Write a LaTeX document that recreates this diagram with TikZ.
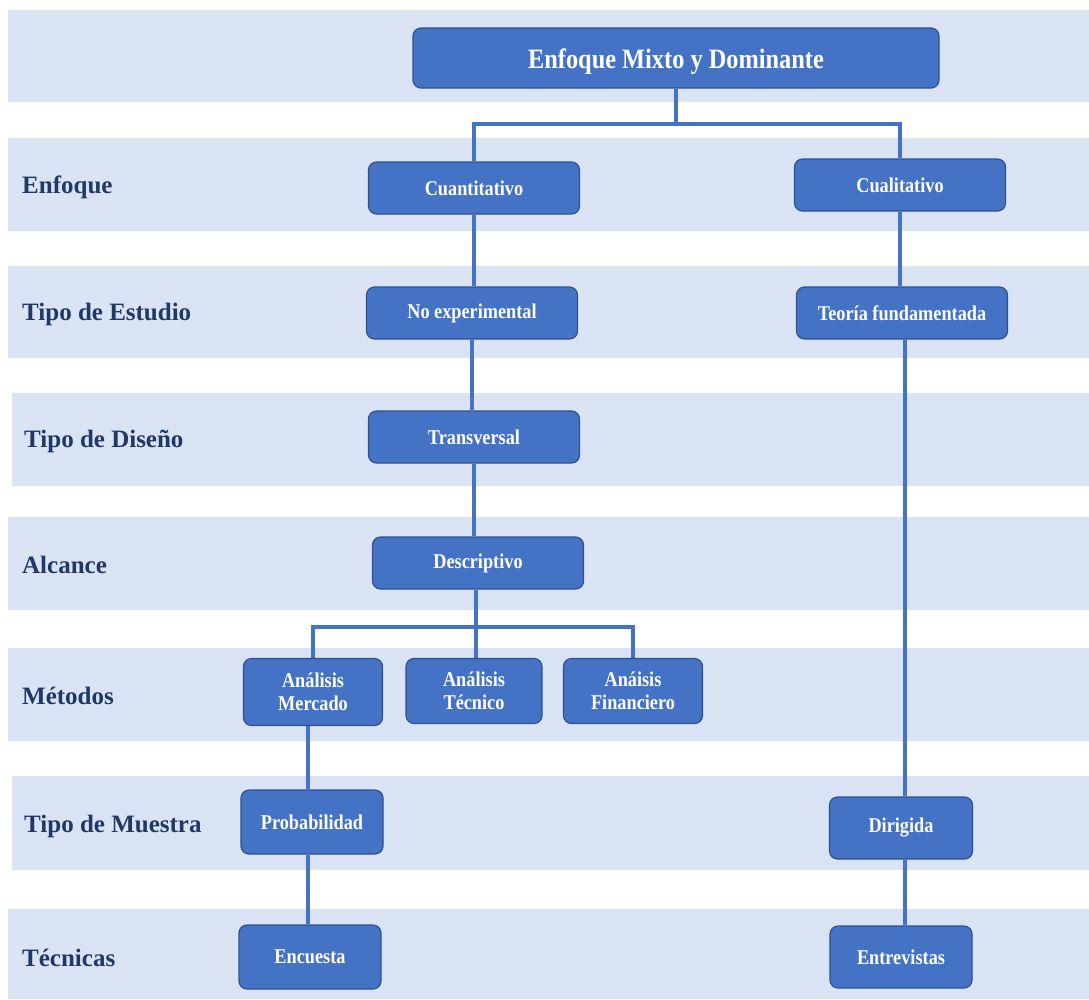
\documentclass[tikz,border=0pt]{standalone}
\usepackage{fontspec}
\setmainfont{Liberation Serif}
\newfontfamily\boxfont[FakeStretch=0.87]{Liberation Serif}
\definecolor{band}{HTML}{DAE3F3}
\definecolor{boxfill}{HTML}{4472C4}
\definecolor{boxline}{HTML}{2F528F}
\definecolor{labeltext}{HTML}{1F3864}
\pgfdeclarelayer{bands}
\pgfdeclarelayer{links}
\pgfsetlayers{bands,links,main}
\tikzset{
  row/.style={fill=band, draw=none},
  stagebox/.style={rectangle, rounded corners=8pt, fill=boxfill, draw=boxline,
    line width=1.2pt, text=white, inner sep=0pt,
    font=\boxfont\bfseries\fontsize{21}{23}\selectfont},
  stage/.style={stagebox, align=center},
  wide/.style={minimum width=211pt, minimum height=52pt},
  rowlabel/.style={anchor=west, text=labeltext, inner sep=0pt,
    font=\bfseries\fontsize{25}{28}\selectfont},
  link/.style={draw=boxfill, line width=4pt}
}
\begin{document}
\begin{tikzpicture}[x=1pt,y=-1pt]
  \useasboundingbox (0,0) rectangle (1089,999);
  % horizontal bands
  \begin{pgfonlayer}{bands}
    \fill[row] (8,10)   rectangle (1089,102);
    \fill[row] (8,138)  rectangle (1089,231);
    \fill[row] (8,266)  rectangle (1089,358);
    \fill[row] (12,393) rectangle (1089,486);
    \fill[row] (8,517)  rectangle (1089,610);
    \fill[row] (8,648)  rectangle (1089,741);
    \fill[row] (12,776) rectangle (1089,870);
    \fill[row] (8,909)  rectangle (1089,999);
  \end{pgfonlayer}

  % row labels
  \node[rowlabel] (lEnf) at (22,187) {Enfoque};
  \node[rowlabel] (lEst) at (22,314) {Tipo de Estudio};
  \node[rowlabel] (lDis) at (24,441) {Tipo de Diseño};
  \node[rowlabel] (lAlc) at (22,565) {Alcance};
  \node[rowlabel] (lMet) at (22,696) {Métodos};
  \node[rowlabel] (lMue) at (24,826) {Tipo de Muestra};
  \node[rowlabel] (lTec) at (22,958) {Técnicas};

  % boxes
  \node[stagebox, minimum width=526pt, minimum height=60pt,
        text height=22pt, text depth=2pt,
        font=\boxfont\bfseries\fontsize{28}{30}\selectfont] (top) at (676,58) {Enfoque Mixto y Dominante};
  \node[stage, wide] (cuan) at (474,188) {Cuantitativo};
  \node[stage, wide] (cual) at (900,185) {Cualitativo};
  \node[stage, wide] (noex) at (472,313) {No experimental};
  \node[stage, wide] (teor) at (902,313) {Teoría fundamentada};
  \node[stage, wide] (tran) at (474,437) {Transversal};
  \node[stage, wide] (desc) at (478,563) {Descriptivo};
  \node[stage, minimum width=139pt, minimum height=67pt] (merc) at (313,692) {Análisis\\Mercado};
  \node[stage, minimum width=136pt, minimum height=65pt] (tecn) at (474,691) {Análisis\\Técnico};
  \node[stage, minimum width=139pt, minimum height=65pt] (fina) at (633,691) {Anáisis\\Financiero};
  \node[stage, minimum width=142pt, minimum height=64pt] (prob) at (312,822) {Probabilidad};
  \node[stage, minimum width=142pt, minimum height=64pt] (encu) at (310,957) {Encuesta};
  \node[stage, minimum width=143pt, minimum height=62pt] (diri) at (901,828) {Dirigida};
  \node[stage, minimum width=142pt, minimum height=62pt] (entr) at (901,957) {Entrevistas};

  % connectors, kept under the boxes
  \coordinate (j1) at ([yshift=-35pt]top.south);
  \coordinate (j2) at ([xshift=-2pt,yshift=-37pt]desc.south);
  \begin{pgfonlayer}{links}
    \draw[link] (top.south) -- (j1);
    \draw[link] (cuan.north) |- (j1) -| (cual.north);
    \draw[link] (cuan.south) -- (cuan.south |- noex.north);
    \draw[link] (cual.south) -- (cual.south |- teor.north);
    \draw[link] (noex.south) -- (noex.south |- tran.north);
    \draw[link] (tran.south) -- (tran.south |- desc.north);
    \draw[link] ([xshift=-2pt]desc.south) -- (j2);
    \draw[link] (merc.north) |- (j2) -| (fina.north);
    \draw[link] (j2) -- (j2 |- tecn.north);
    \draw[link] ([xshift=-5pt]merc.south) -- ([xshift=-5pt]merc.south |- prob.north);
    \draw[link] ([xshift=-4pt]prob.south) -- ([xshift=-4pt]prob.south |- encu.north);
    \draw[link] ([xshift=3pt]teor.south) -- ([xshift=3pt]teor.south |- diri.north);
    \draw[link] ([xshift=4pt]diri.south) -- ([xshift=4pt]diri.south |- entr.north);
  \end{pgfonlayer}
\end{tikzpicture}
\end{document}
